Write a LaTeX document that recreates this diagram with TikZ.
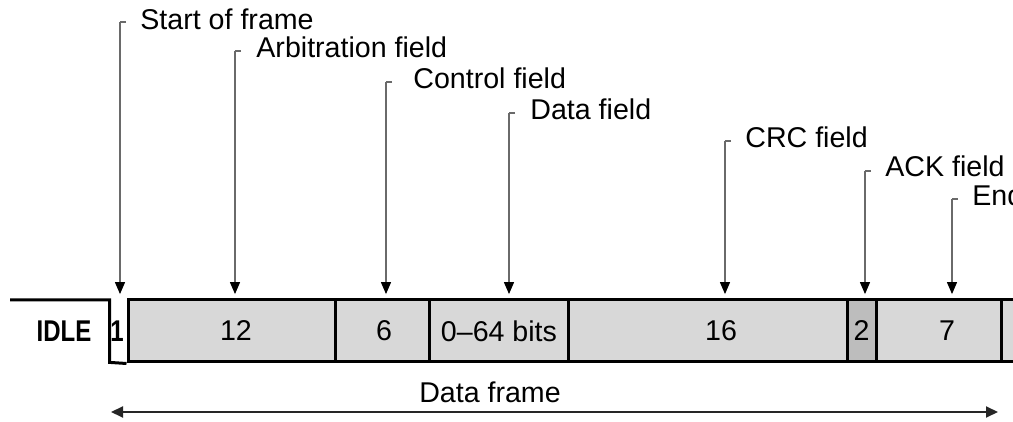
\documentclass[tikz,border=0pt]{standalone}
\usepackage{fontspec}
\setmainfont{Liberation Sans}
\usetikzlibrary{arrows.meta}
\definecolor{cellgray}{HTML}{D8D8D8}
\definecolor{ackgray}{HTML}{BDBDBD}
\definecolor{leadgray}{HTML}{6A6A6A}
\begin{document}
\begin{tikzpicture}[x=0.5pt,y=-0.5pt,
  txt/.style={font=\fontsize{14.3}{16}\selectfont, inner sep=0pt},
  lbl/.style={txt, anchor=base west},
  narrow/.style={font=\fontsize{15}{16}\selectfont\bfseries, inner sep=0pt, anchor=base},
  cell/.style={draw=black, line width=1.5pt, fill=cellgray, minimum height=31pt, inner sep=0pt},
  leader/.style={draw=leadgray, line width=0.6pt},
  pointer/.style={leader, -{Triangle[length=6pt,width=5pt,color=black]}, shorten >=2.2pt},
  span/.style={draw=black!85, line width=1pt, {Triangle[length=6pt,width=5.5pt]}-{Triangle[length=6pt,width=5.5pt]}}
]
\useasboundingbox (0,0) rectangle (1013,422);
\clip (0,0) rectangle (1013,422);

% field cells
\node[cell, minimum width=103.5pt] (c12)  at (231.5,331) {};
\node[cell, minimum width=47pt]    (c6)   at (382,331)   {};
\node[cell, minimum width=69.5pt]  (cdat) at (498.5,331) {};
\node[cell, minimum width=139.5pt] (c16)  at (707.5,331) {};
\node[cell, minimum width=14.5pt, fill=ackgray] (c2) at (861.5,331) {};
\node[cell, minimum width=62.5pt]  (c7)   at (938.5,331) {};
\node[cell, minimum width=40pt]    (cend) at (1041,331)  {};

% cell texts
\node[txt] (t12)  at (236,331) {12};
\node[txt] (t6)   at (384,331) {6};
\node[txt] (tdat) at (499,331) {0–64 bits};
\node[txt] (t16)  at (721,331) {16};
\node[txt] (t2)   at (861.5,331) {2};
\node[txt] (t7)   at (947,331) {7};

% start-of-frame bit and idle level
\node[inner sep=0pt, minimum width=9pt, minimum height=31pt] (c1) at (119,331) {};
\node[narrow] (t1) at (117,342) {\scalebox{0.8}[1]{1}};
\node[narrow] (tidle) at (64,342) {\scalebox{0.8}[1]{IDLE}};
\coordinate (idle) at (10,300);
\draw[line width=1.5pt] (idle) -| (c1.south west) -- (c12.south west);

% labels with leaders
\node[lbl] (lsof)  at (140,30)  {Start of frame};
\node[lbl] (larb)  at (256,58)  {Arbitration field};
\node[lbl] (lctl)  at (413,89)  {Control field};
\node[lbl] (ldat)  at (530,120) {Data field};
\node[lbl] (lcrc)  at (745,148) {CRC field};
\node[lbl] (lack)  at (885,177) {ACK field};
\node[lbl] (lend)  at (972,206) {End of frame};

\coordinate (ksof) at (120,22);
\coordinate (karb) at (235,51);
\coordinate (kctl) at (386,82);
\coordinate (kdat) at (509,113);
\coordinate (kcrc) at (725,141);
\coordinate (kack) at (865,171);
\coordinate (kend) at (952,199);

\foreach \k/\c in {ksof/c12, karb/c12, kctl/c6, kdat/cdat, kcrc/c16, kack/c2, kend/c7} {
  \draw[leader] ([xshift=3pt]\k) -- (\k);
  \draw[pointer] (\k) -- (\k |- \c.north);
}

% data frame span
\coordinate (fl) at (111,412);
\coordinate (fr) at (998,412);
\draw[span] (fl) -- (fr);
\node[txt, anchor=base] (lframe) at (490,403) {Data frame};
\end{tikzpicture}
\end{document}
